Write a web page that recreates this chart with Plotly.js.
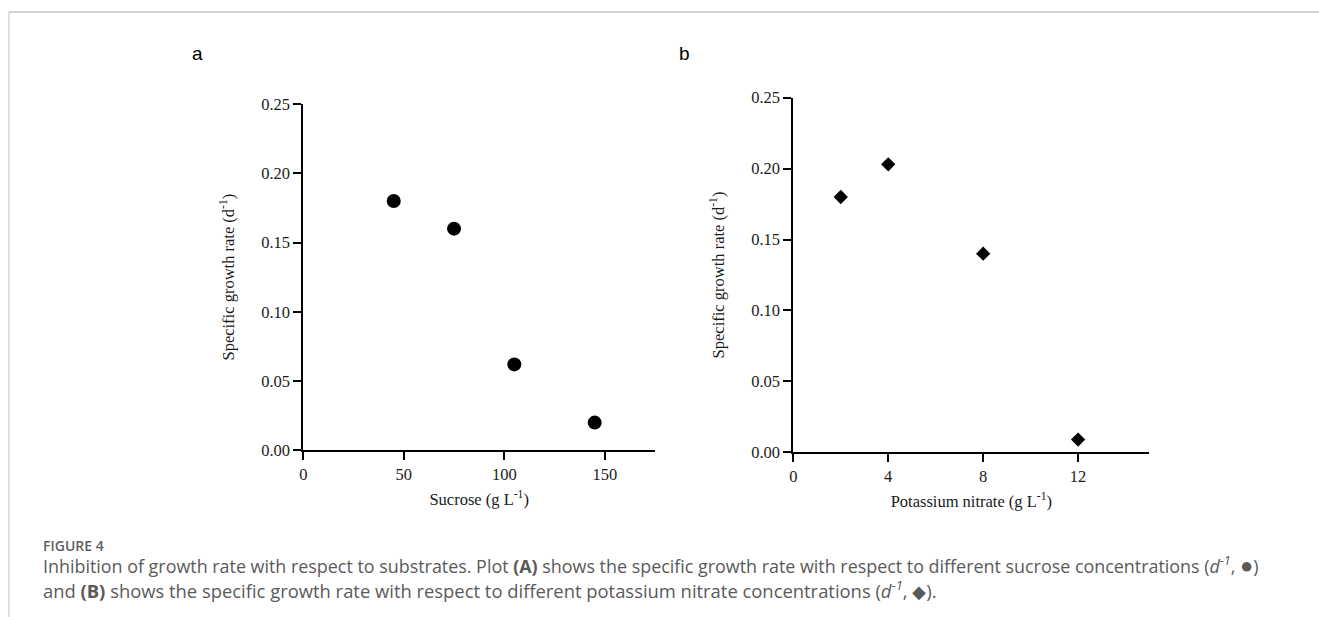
<!DOCTYPE html>
<html>
<head>
<meta charset="utf-8">
<script src="https://cdn.plot.ly/plotly-3.0.1.min.js"></script>
<style>html,body{margin:0;padding:0;background:#fff;}#chart{width:1319px;height:617px;}</style>
</head>
<body>
<div id="chart"></div>
<script>
// Panel A: sucrose
const sucroseConc = [45, 75, 105, 145];
const sucroseRate = [0.180, 0.160, 0.062, 0.020];
// Panel B: potassium nitrate
const nitrateConc = [2, 4, 8, 12];
const nitrateRate = [0.180, 0.203, 0.140, 0.009];

const sucroseTicks = [0, 50, 100, 150];
const nitrateTicks = [0, 4, 8, 12];
const rateTicks = [0, 0.05, 0.10, 0.15, 0.20, 0.25];

const W = 1319, H = 617;
const px = v => v / W;
const py = v => 1 - v / H;

const serif = "Liberation Serif, Times New Roman, serif";
const axisCommon = {
  showline: true, linecolor: '#000', linewidth: 2,
  ticks: 'outside', ticklen: 8, tickwidth: 2, tickcolor: '#000',
  showgrid: false, zeroline: false,
  tickfont: {family: serif, size: 16.5, color: '#1a1a1a'},
  fixedrange: true
};
const titleFont = {family: serif, size: 16.5, color: '#1a1a1a'};

const traces = [
  {x: sucroseConc, y: sucroseRate, xaxis: 'x', yaxis: 'y', type: 'scatter', mode: 'markers',
   marker: {symbol: 'circle', size: 14, color: '#000'}, showlegend: false, hoverinfo: 'x+y'},
  {x: nitrateConc, y: nitrateRate, xaxis: 'x2', yaxis: 'y2', type: 'scatter', mode: 'markers',
   marker: {symbol: 'diamond', size: 11, color: '#000'}, showlegend: false, hoverinfo: 'x+y'}
];

const captionFont = "Open Sans, Noto Sans, sans-serif";
const layout = {
  width: W, height: H,
  margin: {l: 0, r: 0, t: 0, b: 0},
  paper_bgcolor: '#fff', plot_bgcolor: '#fff',
  xaxis: Object.assign({}, axisCommon, {
    domain: [px(303.3), px(655)], range: [0, 175], anchor: 'y',
    tickvals: sucroseTicks, ticktext: sucroseTicks.map(String),
    title: {text: 'Sucrose (g L<sup>-1</sup>)', font: titleFont, standoff: 10}
  }),
  yaxis: Object.assign({}, axisCommon, {
    domain: [py(450.3), py(104)], range: [0, 0.25], anchor: 'x',
    tickvals: rateTicks, ticktext: rateTicks.map(v => v.toFixed(2)),
    title: {text: 'Specific growth rate (d<sup>-1</sup>)', font: titleFont, standoff: 22}
  }),
  xaxis2: Object.assign({}, axisCommon, {
    domain: [px(793.3), px(1149.3)], range: [0, 15], anchor: 'y2',
    tickvals: nitrateTicks, ticktext: nitrateTicks.map(String),
    title: {text: 'Potassium nitrate (g L<sup>-1</sup>)', font: titleFont, standoff: 10}
  }),
  yaxis2: Object.assign({}, axisCommon, {
    domain: [py(452.3), py(97.7)], range: [0, 0.25], anchor: 'x2',
    tickvals: rateTicks, ticktext: rateTicks.map(v => v.toFixed(2)),
    title: {text: 'Specific growth rate (d<sup>-1</sup>)', font: titleFont, standoff: 22}
  }),
  shapes: [
    {type: 'line', xref: 'paper', yref: 'paper', x0: px(9), x1: 1, y0: py(12), y1: py(12),
     line: {color: '#d4d4d4', width: 2}},
    {type: 'line', xref: 'paper', yref: 'paper', x0: px(9), x1: px(9), y0: py(12), y1: 0,
     line: {color: '#d4d4d4', width: 1.5}}
  ],
  annotations: [
    {text: 'a', xref: 'paper', yref: 'paper', x: px(197), y: py(54), xanchor: 'center', yanchor: 'middle',
     showarrow: false, font: {family: 'Liberation Sans, Arial, sans-serif', size: 19, color: '#000'}},
    {text: 'b', xref: 'paper', yref: 'paper', x: px(684), y: py(54), xanchor: 'center', yanchor: 'middle',
     showarrow: false, font: {family: 'Liberation Sans, Arial, sans-serif', size: 19, color: '#000'}},
    {text: 'FIGURE 4', xref: 'paper', yref: 'paper', x: px(41), y: py(545), xanchor: 'left', yanchor: 'middle',
     showarrow: false, font: {family: captionFont, size: 14, color: '#5f5f5f', weight: 600}},
    {text: 'Inhibition of growth rate with respect to substrates. Plot <b>(A)</b> shows the specific growth rate with respect to different sucrose concentrations (<i>d</i><sup>-<i>1</i></sup>, <span style="font-size:22px">●</span>)',
     xref: 'paper', yref: 'paper', x: px(41), y: py(564), xanchor: 'left', yanchor: 'middle',
     showarrow: false, font: {family: captionFont, size: 17.9, color: '#5a5a5a'}},
    {text: 'and <b>(B)</b> shows the specific growth rate with respect to different potassium nitrate concentrations (<i>d</i><sup>-<i>1</i></sup>, <span style="font-size:18px">◆</span>).',
     xref: 'paper', yref: 'paper', x: px(41), y: py(589), xanchor: 'left', yanchor: 'middle',
     showarrow: false, font: {family: captionFont, size: 18.4, color: '#5a5a5a'}}
  ]
};

Plotly.newPlot('chart', traces, layout, {displayModeBar: false});
</script>
</body>
</html>
